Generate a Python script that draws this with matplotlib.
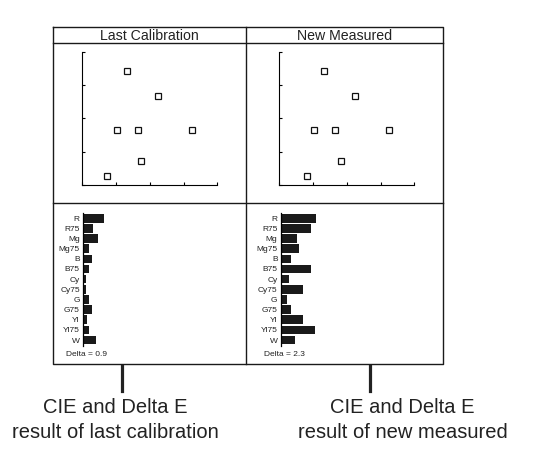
import matplotlib
matplotlib.use('Agg')
import matplotlib.pyplot as plt
from matplotlib.lines import Line2D

plt.rcParams['font.family'] = ['Liberation Sans', 'DejaVu Sans']

W, H = 548, 468

# data
panel_titles = ['Last Calibration', 'New Measured']
caption_top = ['CIE and Delta E', 'CIE and Delta E']
caption_bottom = ['result of last calibration', 'result of new measured']

cie_x_last = [1.31, 2.23, 1.03, 1.66, 3.24, 1.75, 0.74]
cie_y_last = [3.43, 2.67, 1.66, 1.66, 1.66, 0.71, 0.26]
cie_x_new = [1.33, 2.25, 1.04, 1.66, 3.26, 1.83, 0.82]
cie_y_new = [3.43, 2.67, 1.66, 1.66, 1.66, 0.71, 0.26]

patches = ['R', 'R75', 'Mg', 'Mg75', 'B', 'B75', 'Cy', 'Cy75',
           'G', 'G75', 'Yl', 'Yl75', 'W']
de_last = [2.1, 1.0, 1.5, 0.6, 0.9, 0.6, 0.25, 0.25, 0.6, 0.9, 0.35, 0.6, 1.3]
de_new = [3.5, 3.0, 1.6, 1.8, 1.0, 3.0, 0.8, 2.2, 0.6, 1.0, 2.2, 3.4, 1.4]
delta = [0.9, 2.3]


def px_axes(fig, x0, y0, x1, y1):
    return fig.add_axes([x0 / W, 1 - y1 / H, (x1 - x0) / W, (y1 - y0) / H])


def fig_line(fig, xs, ys, lw=1.0, color='#1a1a1a'):
    fig.add_artist(Line2D([x / W for x in xs], [1 - y / H for y in ys],
                          lw=lw, color=color, transform=fig.transFigure))


fig = plt.figure(figsize=(W / 100, H / 100), dpi=100)

# frame of the report
L, R, T, B = 52.5, 443, 27.3, 364
MID, TROW, BROW = 245.5, 43.3, 202.5
fig_line(fig, [L, R, R, L, L], [T, T, B, B, T])
fig_line(fig, [MID, MID], [T, B])
fig_line(fig, [L, R], [TROW, TROW])
fig_line(fig, [L, R], [BROW, BROW])

col_left = [L, MID]
col_right = [MID, R]
scat_x0 = [82.3, 279.3]
bar_x0 = [83.3, 281.0]
cie_data = [(cie_x_last, cie_y_last), (cie_x_new, cie_y_new)]
de_data = [de_last, de_new]

for i in range(2):
    cx = (col_left[i] + col_right[i]) / 2
    fig.text(cx / W, 1 - 35.5 / H, panel_titles[i], ha='center', va='center',
             fontsize=10.2, color='#222222')

    # CIE scatter
    ax = px_axes(fig, scat_x0[i], 51.7, scat_x0[i] + 135, 185)
    xs, ys = cie_data[i]
    ax.plot(xs, ys, 's', ms=5, mfc='white', mec='#111111', mew=0.9)
    ax.set_xlim(0, 4)
    ax.set_ylim(0, 4)
    ax.set_xticks(range(5))
    ax.set_yticks(range(5))
    ax.tick_params(direction='in', length=2.5, width=0.8,
                   labelbottom=False, labelleft=False)
    for s in ['top', 'right']:
        ax.spines[s].set_visible(False)
    for s in ['left', 'bottom']:
        ax.spines[s].set_linewidth(0.8)
    ax.patch.set_alpha(0)

    # Delta E bars
    bx = px_axes(fig, bar_x0[i], 213.3, bar_x0[i] + 150, 345.7)
    bx.barh(range(len(patches)), de_data[i], height=0.85, color='#1a1a1a')
    bx.set_ylim(12.56, -0.49)
    bx.set_xlim(0, 15)
    bx.set_yticks(range(len(patches)))
    bx.set_yticklabels(patches, fontsize=6, color='#222222')
    bx.tick_params(axis='y', length=0, pad=2.5)
    bx.set_xticks([])
    for s in ['top', 'right', 'bottom']:
        bx.spines[s].set_visible(False)
    bx.spines['left'].set_linewidth(0.9)
    bx.patch.set_alpha(0)
    fig.text((bar_x0[i] + 3) / W, 1 - 354 / H, f'Delta = {delta[i]}',
             ha='center', va='center', fontsize=6, color='#222222')

# leaders and captions
for lx in [122.4, 369.6]:
    fig_line(fig, [lx, lx], [365.5, 391], lw=2.3, color='#222222')
captions_x = [115.7, 402.4]
for i in range(2):
    fig.text(captions_x[i] / W, 1 - 407.4 / H, caption_top[i], ha='center',
             va='center', fontsize=14.5, color='#222222')
    fig.text(captions_x[i] / W, 1 - 432.6 / H, caption_bottom[i], ha='center',
             va='center', fontsize=14.5, color='#222222')

fig.savefig('out.png', dpi=100)
